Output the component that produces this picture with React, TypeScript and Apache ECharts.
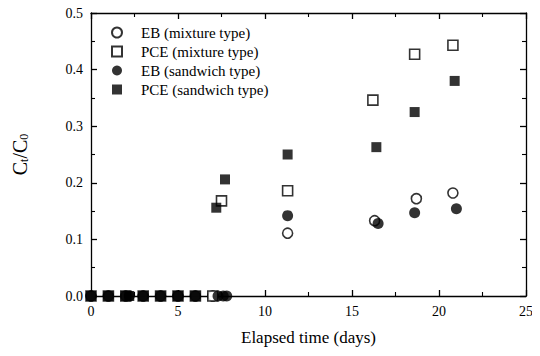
import React, { useEffect, useRef } from "react";
import * as echarts from "echarts";

const xTicks = [0, 5, 10, 15, 20, 25];
const yTicks = [0, 0.1, 0.2, 0.3, 0.4, 0.5];

const seriesNames = [
  "EB (mixture type)",
  "PCE (mixture type)",
  "EB (sandwich type)",
  "PCE (sandwich type)",
];

const ebMixture: [number, number][] = [
  [0, 0], [1, 0], [2, 0], [3, 0], [4, 0], [5, 0], [6, 0], [7, 0],
  [11.3, 0.111], [16.3, 0.133], [18.7, 0.172], [20.8, 0.182],
];
const pceMixture: [number, number][] = [
  [0, 0], [1, 0], [2, 0], [3, 0], [4, 0], [5, 0], [6, 0], [7, 0],
  [7.5, 0.168], [11.3, 0.186], [16.2, 0.346], [18.6, 0.427], [20.8, 0.443],
];
const ebSandwich: [number, number][] = [
  [0, 0], [1, 0], [2, 0], [2.2, 0], [3, 0], [4, 0], [5, 0], [6, 0],
  [7.3, 0], [7.6, 0], [7.8, 0],
  [11.3, 0.142], [16.5, 0.128], [18.6, 0.147], [21.0, 0.154],
];
const pceSandwich: [number, number][] = [
  [0, 0], [1, 0], [2, 0], [2.2, 0], [3, 0], [4, 0], [5, 0], [6, 0],
  [7.2, 0.156], [7.7, 0.206], [11.3, 0.25], [16.4, 0.263], [18.6, 0.325], [20.9, 0.38],
];

const FONT = "'Liberation Serif', 'DejaVu Serif', serif";

export default function App() {
  const ref = useRef<HTMLDivElement>(null);
  useEffect(() => {
    if (!ref.current) return;
    const chart = echarts.init(ref.current, null, { renderer: "svg" });
    const axisCommon = {
      axisLine: { show: true, onZero: false, lineStyle: { color: "#000", width: 1.3 } },
      axisTick: { show: true, inside: true, length: 6, lineStyle: { color: "#000", width: 1.3 } },
      minorTick: { show: true, splitNumber: 2, length: 4, lineStyle: { color: "#000", width: 1.1 } },
      splitLine: { show: false },
    };
    const open = { color: "#fff", borderColor: "#000", borderWidth: 1.6 };
    const filled = { color: "#000", borderColor: "#000", borderWidth: 0 };
    const datasets = [ebMixture, pceMixture, ebSandwich, pceSandwich];
    const symbols = ["circle", "rect", "circle", "rect"];
    const sizes = [10, 10, 11, 10];
    const styles = [open, open, filled, filled];
    chart.setOption({
      animation: false,
      textStyle: { fontFamily: FONT },
      grid: { left: 91, right: 14, top: 13, bottom: 60 },
      legend: {
        orient: "vertical",
        left: 111,
        top: 25,
        padding: 0,
        itemWidth: 10,
        itemHeight: 10,
        itemGap: 4,
        data: seriesNames.map((n, i) => ({ name: n, icon: symbols[i] })),
        textStyle: { fontFamily: FONT, fontSize: 15, color: "#000", padding: [0, 0, 0, 14] },
      },
      xAxis: [
        {
          type: "value",
          min: xTicks[0],
          max: xTicks[xTicks.length - 1],
          interval: 5,
          position: "bottom",
          ...axisCommon,
          axisLabel: { fontFamily: FONT, fontSize: 14, color: "#000", margin: 8 },
          name: "Elapsed time (days)",
          nameLocation: "middle",
          nameGap: 33,
          nameTextStyle: { fontFamily: FONT, fontSize: 17, color: "#000" },
        },
        {
          type: "value",
          min: xTicks[0],
          max: xTicks[xTicks.length - 1],
          interval: 5,
          position: "top",
          ...axisCommon,
          axisLabel: { show: false },
        },
      ],
      yAxis: [
        {
          type: "value",
          min: yTicks[0],
          max: yTicks[yTicks.length - 1],
          interval: 0.1,
          position: "left",
          ...axisCommon,
          axisLabel: {
            fontFamily: FONT,
            fontSize: 14,
            color: "#000",
            margin: 8,
            formatter: (v: number) => v.toFixed(1),
          },
          name: "{c|C}{s|t}{c|/C}{s|0}",
          nameLocation: "middle",
          nameGap: 61,
          nameRotate: 90,
          nameTextStyle: {
            rich: {
              c: { fontFamily: FONT, fontSize: 20, color: "#000" },
              s: { fontFamily: FONT, fontSize: 12, color: "#000", verticalAlign: "bottom", padding: [8, 0, 0, 0] },
            },
          },
        },
        {
          type: "value",
          min: yTicks[0],
          max: yTicks[yTicks.length - 1],
          interval: 0.1,
          position: "right",
          ...axisCommon,
          axisLabel: { show: false },
        },
      ],
      series: datasets.map((d, i) => ({
        name: seriesNames[i],
        type: "scatter",
        data: d,
        symbol: symbols[i],
        symbolSize: sizes[i],
        itemStyle: styles[i],
        z: 2 + i,
      })),
    });
    return () => chart.dispose();
  }, []);
  return <div ref={ref} style={{ width: 540, height: 356, margin: -8 }} />;
}
